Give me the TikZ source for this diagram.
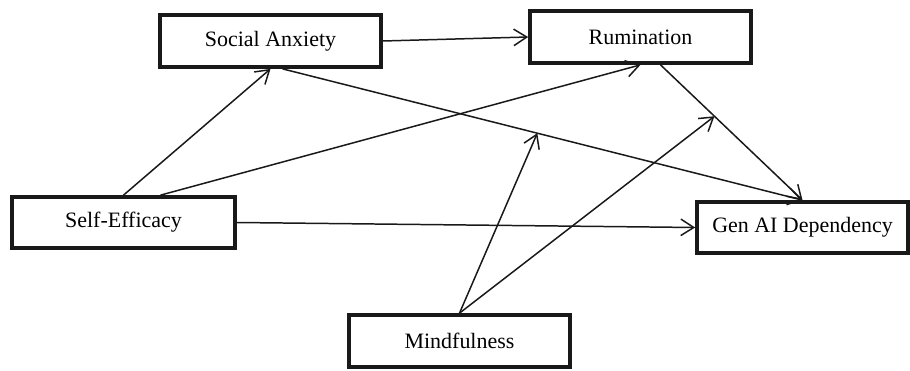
\documentclass[tikz,border=0pt]{standalone}
\usepackage{fontspec}
\setmainfont{Liberation Serif}
\usetikzlibrary{arrows.meta,calc}

\begin{document}
\begin{tikzpicture}[%
      x=0.02cm, y=-0.02cm, %
      font=\fontsize{12.5}{15}\selectfont, %
      construct/.style={
        draw=black!90,
        line width=2.4pt,
        inner sep=0pt,
        minimum width=4.41cm,
        minimum height=1.03cm
      },
      link/.style={
        -{Straight Barb[length=2.6mm,width=3.3mm]},
        line width=0.85pt,
        black!90
      }
      ]
      \useasboundingbox (0,0) rectangle (910,371);

      % Constructs
      \node[construct] (anx) at (270.5, 41) {Social Anxiety};
      \node[construct] (rum) at (640.5, 37) {Rumination};
      \node[construct, minimum width=4.45cm, minimum height=1.01cm] (eff) at (123.5, 222.5) {Self-Efficacy};
      \node[construct, minimum width=4.21cm, minimum height=1.01cm] (dep) at (802.5, 227.5) {Gen AI Dependency};
      \node[construct] (mind) at (459.5, 341) {Mindfulness};

      % Direct paths
      \draw[link] (anx.east) -- (rum.west);
      \draw[link] (eff.north) -- (anx.south);
      \draw[link] ($(eff.north)+(37,0)$) -- (rum.south);
      \draw[link] (eff.east) -- (dep.west);
      \draw[link] ($(anx.south)+(12,0)$) -- (dep.north) coordinate[pos=0.49] (modanx);
      \draw[link] ($(rum.south)+(20,0)$) -- (dep.north) coordinate[pos=0.38] (modrum);

      % Moderation
      \draw[link] (mind.north) -- (modanx);
      \draw[link] (mind.north) -- (modrum);

    \end{tikzpicture}
\end{document}
